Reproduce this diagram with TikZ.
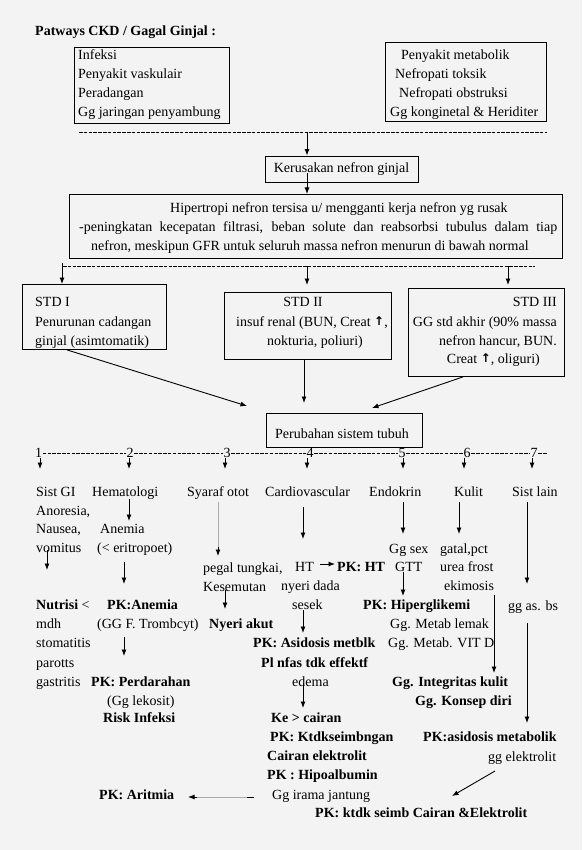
\documentclass[tikz,border=0pt]{standalone}
\usepackage{fontspec}
\setmainfont{Liberation Serif}
\newfontfamily\symfont{DejaVu Sans}
\usetikzlibrary{arrows.meta}
\definecolor{bgcol}{RGB}{243,243,243}
\definecolor{lgray}{RGB}{170,170,170}
\newcommand{\myup}{{\symfont\bfseries\fontsize{12}{12}\selectfont\raisebox{1.5pt}{↑}}}
\begin{document}
\begin{tikzpicture}[x=1pt,y=-1pt,
  txt/.style={inner sep=0pt, anchor=base west, font=\fontsize{14}{19}\selectfont},
  btxt/.style={txt, font=\fontsize{14}{19}\selectfont\bfseries},
  num/.style={inner xsep=0.6pt, inner ysep=0pt, anchor=base, font=\fontsize{14}{19}\selectfont},
  box/.style={draw, line width=0.9pt, inner sep=0pt, anchor=north west},
  arr/.style={line width=0.9pt, -{Latex[length=6.5pt,width=5pt]}},
  plain/.style={line width=0.9pt},
  dashline/.style={line width=0.8pt, dash pattern=on 3.5pt off 1.3pt}]
\fill[bgcol] (0,0) rectangle (582,850);
\useasboundingbox (0,0) rectangle (582,850);

% title
\node[btxt] (title) at (35,36) {Patways CKD / Gagal Ginjal :};

% source boxes
\node[box, minimum width=155.5pt, minimum height=76pt] (srcL) at (73.5,47) {};
\node[txt] (l1) at (78,59.5) {Infeksi};
\node[txt] (l2) at (78,78.5) {Penyakit vaskulair};
\node[txt] (l3) at (78,97.5) {Peradangan};
\node[txt] (l4) at (78,116.5) {Gg jaringan penyambung};

\node[box, minimum width=161pt, minimum height=79pt] (srcR) at (385,42) {};
\node[txt] (r1) at (401,59.5) {Penyakit metabolik};
\node[txt] (r2) at (395,78.5) {Nefropati toksik};
\node[txt] (r3) at (399,97.5) {Nefropati obstruksi};
\node[txt] (r4) at (390,116.5) {Gg konginetal \& Heriditer};

\coordinate (d1a) at (79,132);
\coordinate (d1b) at (547,132);
\draw[dashline] (d1a) -- (d1b);

\node[box, anchor=center, minimum width=153pt, minimum height=26pt, font=\fontsize{14}{19}\selectfont] (ker) at (341.5,169) {Kerusakan nefron ginjal};
\draw[arr] (307,0 |- d1a) -- (307,0 |- ker.north);

\node[box, minimum width=493pt, minimum height=64pt] (hip) at (69,194) {};
\draw[arr] (307,173) -- (307,0 |- hip.north);
\node[txt] (h1) at (170,212.5) {Hipertropi nefron tersisa u/ mengganti kerja nefron yg rusak};
\node[txt] (h2) at (79,231.5) {\makebox[478pt][s]{-peningkatan kecepatan filtrasi, beban solute dan reabsorbsi tubulus dalam tiap}};
\node[txt] (h3) at (91,250.5) {nefron, meskipun GFR untuk seluruh massa nefron menurun di bawah normal};

\coordinate (d2a) at (63,266);
\coordinate (d2b) at (535,266);
\draw[dashline] (d2a) -- (d2b);

% stages
\node[box, minimum width=144pt, minimum height=65pt] (std1) at (22,284) {};
\node[box, minimum width=167pt, minimum height=67pt] (std2) at (224,292) {};
\node[box, minimum width=156pt, minimum height=88pt] (std3) at (408,288) {};

\draw[arr] (62,263) -- (62,0 |- std1.north);
\draw[arr] (307,0 |- d2a) -- (307,285);
\draw[arr] (508,0 |- d2a) -- (508,285);

\node[txt] (s11) at (35,306.5) {STD I};
\node[txt] (s12) at (35,326.5) {Penurunan cadangan};
\node[txt] (s13) at (35,345.5) {ginjal (asimtomatik)};

\node[txt, anchor=base] (s21) at (303,306.5) {STD II};
\node[txt] (s22) at (236,326.5) {insuf renal (BUN, Creat \myup,};
\node[txt] (s23) at (267,345.5) {nokturia, poliuri)};

\node[txt, anchor=base east] (s31) at (557,306.5) {STD III};
\node[txt, anchor=base east] (s32) at (557,326.5) {GG std akhir (90\% massa};
\node[txt, anchor=base east] (s33) at (557,345.5) {nefron hancur, BUN.};
\node[txt, anchor=base east] (s34) at (540,363.5) {Creat \myup, oliguri)};

\node[box, minimum width=156pt, minimum height=34pt] (per) at (266,413) {};
\node[txt, anchor=base] (pert) at (342,438.5) {Perubahan sistem tubuh};

\draw[arr] (67,0 |- std1.south) -- (247,406);
\draw[arr] (304,0 |- std2.south) -- (304,403);
\draw[arr] (463,0 |- std3.south) -- (372,408);

% number line
\node[num] (n1) at (38.5,457) {1};
\node[num] (n2) at (130,457) {2};
\node[num] (n3) at (227,457) {3};
\node[num] (n4) at (310,457) {4};
\node[num] (n5) at (402,457) {5};
\node[num] (n6) at (467,457) {6};
\node[num] (n7) at (534,457) {7};
\draw[dashline] ([yshift=3.5pt]n1.base east) -- ([yshift=3.5pt]n2.base west);
\draw[dashline] ([yshift=3.5pt]n2.base east) -- ([yshift=3.5pt]n3.base west);
\draw[dashline] ([yshift=3.5pt]n3.base east) -- ([yshift=3.5pt]n4.base west);
\draw[dashline] ([yshift=3.5pt]n4.base east) -- ([yshift=3.5pt]n5.base west);
\draw[dashline] ([yshift=3.5pt]n5.base east) -- ([yshift=3.5pt]n6.base west);
\draw[dashline] ([yshift=3.5pt]n6.base east) -- ([yshift=3.5pt]n7.base west);
\draw[dashline] ([yshift=3.5pt]n7.base east) -- ++(9,0);

\draw[arr] (40,458) -- (40,469);
\draw[arr] (129,458) -- (129,469);
\draw[arr] (225,458) -- (225,469);
\draw[arr] (307,458) -- (307,469);
\draw[arr] (403,458) -- (403,469);
\draw[arr] (464,458) -- (464,469);
\draw[arr] (532,458) -- (532,469);

% categories
\node[txt] (c1) at (36,496.5) {Sist GI};
\node[txt] (c2) at (92,496.5) {Hematologi};
\node[txt] (c3) at (187,496.5) {Syaraf otot};
\node[txt] (c4) at (265,496.5) {Cardiovascular};
\node[txt] (c5) at (369,496.5) {Endokrin};
\node[txt] (c6) at (454,496.5) {Kulit};
\node[txt] (c7) at (512,496.5) {Sist lain};

% 1 GI
\node[txt] (g1) at (36,515.5) {Anoresia,};
\node[txt] (g2) at (36,533.5) {Nausea,};
\node[txt] (g3) at (36,552.5) {vomitus};
\draw[arr] (47,550) -- (47,570);
\node[txt] (g4) at (36,609.5) {\textbf{Nutrisi} <};
\node[txt] (g5) at (36,628.5) {mdh};
\node[txt] (g6) at (36,647.5) {stomatitis};
\node[txt] (g7) at (36,667.5) {parotts};
\node[txt] (g8) at (36,686.5) {gastritis};

% 2 Hematologi
\draw[arr] (129,499) -- (129,521);
\node[txt] (e1) at (100,533.5) {Anemia};
\node[txt] (e2) at (97,552.5) {(< eritropoet)};
\draw[arr] (124,562) -- (124,584);
\node[btxt] (e3) at (107,609.5) {PK:Anemia};
\node[txt] (e4) at (97,628.5) {(GG F. Trombcyt)};
\draw[arr] (124,637) -- (124,656);
\node[btxt] (e5) at (91,686.5) {PK: Perdarahan};
\node[txt] (e6) at (107,705.5) {(Gg lekosit)};
\node[btxt] (e7) at (103,722.5) {Risk Infeksi};

% 3 Syaraf
\draw[plain, lgray] (218,502) -- (218,549);
\draw[arr] (218,547) -- (218,556);
\node[txt] (y1) at (203,572.5) {pegal tungkai,};
\node[txt] (y2) at (203,591) {Kesemutan};
\draw[arr] (225,590) -- (225,609);
\node[btxt] (y3) at (209,628) {Nyeri akut};

% 4 Cardio
\draw[arr] (303,507) -- (303,539);
\node[txt] (v1) at (295,571.5) {HT};
\draw[arr] (320,564) -- (335,564);
\node[btxt] (v2) at (337,571.5) {PK: HT};
\node[txt] (v3) at (281,590.5) {nyeri dada};
\node[txt] (v4) at (292,609.5) {sesek};
\draw[arr] (303,610) -- (303,633);
\node[btxt] (v5) at (253,647.5) {PK: Asidosis metblk};
\node[btxt] (v6) at (261,667) {Pl nfas tdk effektf};
\node[txt] (v7) at (292,686.5) {edema};
\draw[arr] (303,683) -- (303,708);
\node[btxt] (v8) at (271,722.5) {Ke > cairan};
\node[btxt] (v9) at (270,741.5) {PK: Ktdkseimbngan};
\node[btxt] (v10) at (267,760.5) {Cairan elektrolit};
\node[btxt] (v11) at (267,779.5) {PK : Hipoalbumin};
\node[txt] (v12) at (272,799.5) {Gg irama jantung};
\node[btxt] (v13) at (99,799) {PK: Aritmia};
\draw[plain, lgray] (248,797) -- (194,797);
\draw[plain] (254,797) -- (247,797);
\draw[arr] (197,797) -- (188,797);

% 5 Endokrin
\draw[arr] (403,502) -- (403,534);
\node[txt] (k1) at (389,553) {Gg sex};
\node[txt] (k2) at (395,571.5) {GTT};
\draw[arr] (403,572) -- (403,596);
\node[btxt] (k3) at (363,609.5) {PK: Hiperglikemi};
\node[txt] (k4) at (390,628.5) {Gg. Metab lemak};
\node[txt] (k5) at (388,647.5) {Gg. Metab. VIT D};

% 6 Kulit
\draw[arr] (459,502) -- (459,534);
\node[txt] (u1) at (440,553) {gatal,pct};
\node[txt] (u2) at (440,571.5) {urea frost};
\node[txt] (u3) at (444,590.5) {ekimosis};
\draw[arr] (494,595) -- (494,673);
\node[btxt] (u4) at (392,686.5) {Gg. Integritas kulit};
\node[btxt] (u5) at (415,705.5) {Gg. Konsep diri};

% 7 Sist lain
\draw[arr] (527,502) -- (527,584);
\node[txt] (o1) at (508,610.5) {gg as. bs};
\draw[arr] (527,623) -- (527,723);
\node[btxt] (o2) at (423,741.5) {PK:asidosis metabolik};
\node[txt] (o3) at (488,761.5) {gg elektrolit};
\draw[arr] (495,771) -- (452,796);
\node[btxt] (o4) at (315,817.5) {PK: ktdk seimb Cairan \&Elektrolit};
\end{tikzpicture}
\end{document}
